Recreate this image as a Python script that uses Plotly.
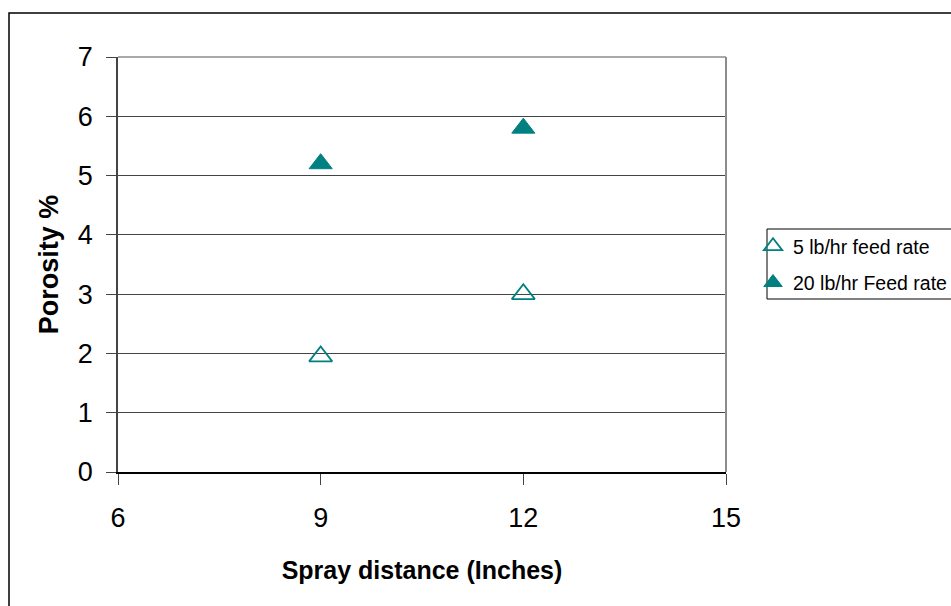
import plotly.graph_objects as go

# Spray distance (inches) and measured porosity (%) for two powder feed rates
spray_distance = [9, 12]
porosity_5lb = [1.95, 3.0]
porosity_20lb = [5.2, 5.8]

series_names = ["5 lb/hr feed rate", "20 lb/hr Feed rate"]
x_ticks = [6, 9, 12, 15]
y_ticks = [0, 1, 2, 3, 4, 5, 6, 7]

TEAL = "#008080"
FONT = "Arial, Liberation Sans, sans-serif"

# Canvas and plot-area geometry (pixels)
W, H = 951, 606
L, R, T, B = 118, 726, 57, 472


def px_x(p):
    return (p - L) / (R - L)


def px_y(p):
    return 1 - (p - T) / (B - T)


fig = go.Figure()
fig.add_trace(go.Scatter(
    x=spray_distance, y=porosity_5lb, mode="markers", name=series_names[0],
    legendgroup="a",
    marker=dict(symbol="triangle-up-open", size=20, color=TEAL,
                line=dict(color=TEAL, width=1.8)),
))
fig.add_trace(go.Scatter(
    x=spray_distance, y=porosity_20lb, mode="markers", name=series_names[1],
    legendgroup="b",
    marker=dict(symbol="triangle-up", size=20, color=TEAL,
                line=dict(color=TEAL, width=1)),
))

# Outer chart frame, plot-area top/right border, legend frame
shapes = [
    dict(type="rect", xref="paper", yref="paper",
         x0=px_x(9), x1=px_x(980), y0=px_y(640), y1=px_y(13),
         line=dict(color="black", width=1.5), layer="below"),
    dict(type="line", xref="paper", yref="paper",
         x0=0, x1=1, y0=1, y1=1, line=dict(color="#8c8c8c", width=1.5)),
    dict(type="line", xref="paper", yref="paper",
         x0=1, x1=1, y0=0, y1=1, line=dict(color="#8c8c8c", width=2)),
    dict(type="rect", xref="paper", yref="paper",
         x0=px_x(767), x1=px_x(990), y0=px_y(299), y1=px_y(229),
         line=dict(color="black", width=1)),
]

fig.update_layout(
    width=W, height=H,
    margin=dict(l=L, r=W - R, t=T, b=H - B, autoexpand=False),
    paper_bgcolor="white", plot_bgcolor="white",
    font=dict(family=FONT, color="black"),
    showlegend=True,
    legend=dict(
        x=px_x(753), y=px_y(227), xanchor="left", yanchor="top",
        bgcolor="rgba(0,0,0,0)", borderwidth=0,
        font=dict(size=19.5, family=FONT), tracegroupgap=8,
    ),
    shapes=shapes,
    xaxis=dict(
        range=[6, 15], tickvals=x_ticks, ticks="outside", ticklen=11,
        tickcolor="#444", tickwidth=1,
        showline=True, linecolor="black", linewidth=1.5,
        showgrid=False, zeroline=False,
        tickfont=dict(size=27), ticklabelstandoff=10,
        title=dict(text="<b>Spray distance (Inches)</b>",
                   font=dict(size=25), standoff=29),
    ),
    yaxis=dict(
        range=[0, 7], tickvals=y_ticks, ticks="outside", ticklen=10,
        tickcolor="#444", tickwidth=1,
        showline=True, linecolor="#444", linewidth=1.5,
        showgrid=True, gridcolor="#444", gridwidth=1, zeroline=False,
        tickfont=dict(size=27), ticklabelstandoff=8,
        title=dict(text="<b>Porosity %</b>", font=dict(size=27), standoff=11),
    ),
)

fig.write_html("out.html")
